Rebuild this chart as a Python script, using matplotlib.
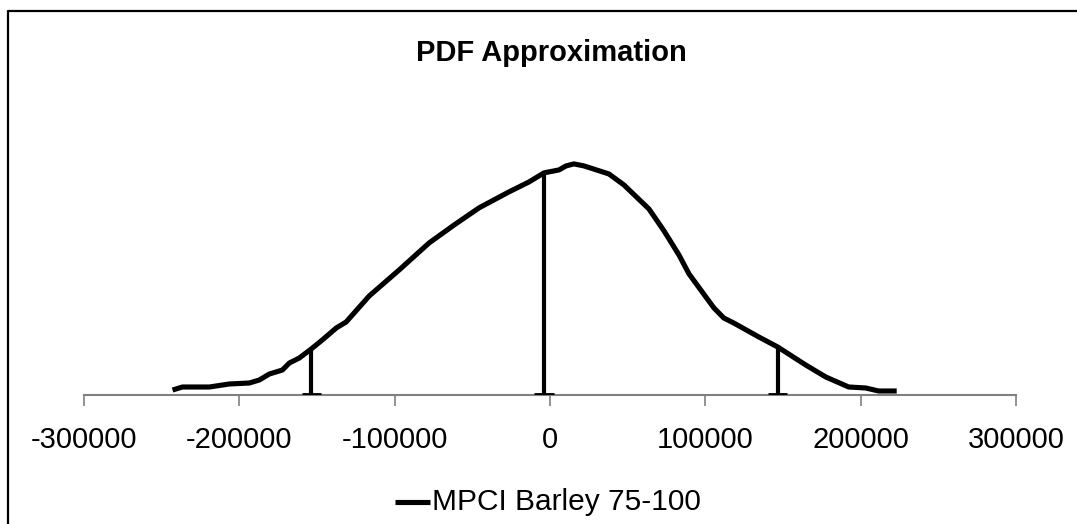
import matplotlib
matplotlib.use("Agg")
import matplotlib.pyplot as plt
from matplotlib.lines import Line2D

plt.rcParams['font.family'] = ['Liberation Sans', 'DejaVu Sans']

# Approximated probability density (scaled, x1e-6)
x_vals = [-243000, -236600, -219300, -206400, -193600, -187100, -180700, -172300,
          -167800, -161400, -153700, -146600, -137600, -131200, -116400, -97100,
          -77800, -61700, -45700, -26400, -13500, -3860, 5800, 10300, 15400,
          21900, 37900, 47600, 63700, 73400, 83000, 89500, 105500, 111900,
          118300, 134400, 146600, 164600, 177500, 192300, 203200, 211600, 223200]
y_vals = [0.056, 0.09, 0.09, 0.124, 0.135, 0.169, 0.236, 0.281, 0.36, 0.416,
          0.518, 0.619, 0.754, 0.822, 1.114, 1.407, 1.711, 1.913, 2.105, 2.285,
          2.397, 2.499, 2.532, 2.577, 2.6, 2.577, 2.487, 2.363, 2.093, 1.846,
          1.576, 1.362, 0.98, 0.866, 0.81, 0.653, 0.540, 0.338, 0.203, 0.09,
          0.079, 0.045, 0.045]

# Markers at mean - sd, mean, mean + sd
marker_x = [-153700, -3860, 146600]
marker_y = [0.518, 2.499, 0.540]

x_ticks = [-300000, -200000, -100000, 0, 100000, 200000, 300000]
series_name = "MPCI Barley 75-100"
title = "PDF Approximation"

W, H = 1077, 524
fig = plt.figure(figsize=(W / 100, H / 100), dpi=100)
ax = fig.add_axes([84 / W, 1 - 395 / H, 932 / W, 320 / H])

ax.plot(x_vals, y_vals, color='black', lw=3.7, solid_capstyle='butt',
        solid_joinstyle='round', clip_on=False, zorder=3)
ax.vlines(marker_x, 0, marker_y, color='black', lw=3.0, zorder=3)
cap_half = 6200
for mx in marker_x:
    ax.hlines(0, mx - cap_half, mx + cap_half, color='black', lw=3.5, zorder=4)

ax.set_xlim(-300000, 300000)
ax.set_ylim(0, 3.6)
ax.set_xticks(x_ticks)
ax.set_xticklabels([str(t) for t in x_ticks])
ax.tick_params(axis='x', direction='out', length=8, width=1.2, color='#808080',
               labelsize=21, pad=14)
ax.set_yticks([])
for side in ['top', 'right', 'left']:
    ax.spines[side].set_visible(False)
ax.spines['bottom'].set_color('#808080')
ax.spines['bottom'].set_linewidth(1.5)

fig.text(551 / W, 1 - 53 / H, title, ha='center', va='center',
         fontsize=21, fontweight='bold')

# Legend entry drawn in figure coordinates
ly = 1 - 502 / H
fig.add_artist(Line2D([395 / W, 430 / W], [ly, ly], color='black', lw=3.7,
                      solid_capstyle='butt'))
fig.text(432 / W, ly, series_name, ha='left', va='center', fontsize=21.5)

# Chart frame
fx, fy = 7.5 / W, 1 - 11 / H
fig.add_artist(Line2D([fx, fx, 1.01], [-0.01, fy, fy], color='black', lw=1.6))

fig.savefig('out.png', dpi=100, facecolor='white')
